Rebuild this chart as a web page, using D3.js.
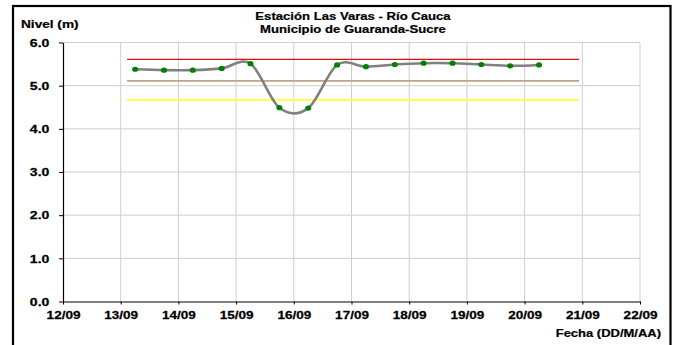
<!DOCTYPE html>
<html><head><meta charset="utf-8">
<script src="https://cdn.jsdelivr.net/npm/d3@7"></script>
<style>
html,body{margin:0;padding:0;background:#fff;}
svg{display:block;font-family:"Liberation Sans",Arial,sans-serif;}
</style></head>
<body><svg id="c" width="677" height="345"></svg>
<script>
const titleLines = ["Estación Las Varas - Río Cauca", "Municipio de Guaranda-Sucre"];
const yLabel = "Nivel (m)";
const xLabel = "Fecha (DD/M/AA)";
const times = ["2011-09-13T06:00","2011-09-13T18:00","2011-09-14T06:00","2011-09-14T18:00",
  "2011-09-15T06:00","2011-09-15T18:00","2011-09-16T06:00","2011-09-16T18:00",
  "2011-09-17T06:00","2011-09-17T18:00","2011-09-18T06:00","2011-09-18T18:00",
  "2011-09-19T06:00","2011-09-19T18:00","2011-09-20T06:00"];
const levels = [5.38,5.36,5.36,5.40,5.51,4.49,4.48,5.48,5.44,5.49,5.52,5.52,5.49,5.46,5.48];
const thresholdValues = [5.61, 5.11, 4.67];
const thresholdColors = ["#e01010", "#c4a484", "#ffff33"];
const thresholdWidths = [1.2, 1.6, 1.8];
const thresholdSpan = ["2011-09-13T02:40", "2011-09-20T22:40"];
const xDomain = ["2011-09-12T00:00", "2011-09-22T00:00"];
const yTicks = [0,1,2,3,4,5,6];

const parse = s => new Date(s + ":00Z");
const svg = d3.select("#c");
const m = {l:63, r:640, t:42.5, b:301.5};
const x = d3.scaleUtc().domain(xDomain.map(parse)).range([m.l, m.r]);
const y = d3.scaleLinear().domain([0,6]).range([m.b, m.t]);

// outer border
svg.append("rect").attr("x",13).attr("y",6).attr("width",657.5).attr("height",345)
  .attr("fill","none").attr("stroke","#000").attr("stroke-width",2.2);

// grid
const days = d3.utcDay.range(parse(xDomain[0]), d3.utcDay.offset(parse(xDomain[1]),1));
svg.append("g").selectAll("line").data(days.slice(1)).join("line")
  .attr("x1",d=>x(d)).attr("x2",d=>x(d)).attr("y1",m.t).attr("y2",m.b)
  .attr("stroke","#cfcfcf").attr("stroke-width",1);
svg.append("g").selectAll("line").data(yTicks.slice(1)).join("line")
  .attr("x1",m.l).attr("x2",m.r).attr("y1",d=>y(d)).attr("y2",d=>y(d))
  .attr("stroke","#cfcfcf").attr("stroke-width",1);

// axes
const xAxis = d3.axisBottom(x).tickValues(days).tickSize(3).tickSizeOuter(0)
  .tickFormat(d3.utcFormat("%d/%m"));
const gx = svg.append("g").attr("transform",`translate(0,${m.b})`).call(xAxis);
gx.select(".domain").attr("stroke","#000").attr("stroke-width",1.2);
gx.selectAll(".tick line").attr("stroke","#000");
gx.selectAll("text").attr("font-size",10.8).attr("font-weight","bold")
  .attr("fill","#000").attr("stroke","#000").attr("stroke-width",0.25)
  .attr("dy",0).attr("y",17.5).attr("transform","scale(1.25,1)")
  .attr("font-family","Liberation Sans, Arial, sans-serif");

const yAxis = d3.axisLeft(y).tickValues(yTicks).tickSize(4).tickSizeOuter(0)
  .tickFormat(d3.format(".1f"));
const gy = svg.append("g").attr("transform",`translate(${m.l},0)`).call(yAxis);
gy.select(".domain").attr("stroke","#000").attr("stroke-width",1.2);
gy.selectAll(".tick line").attr("stroke","#000");
gy.selectAll("text").attr("font-size",10.8).attr("font-weight","bold")
  .attr("fill","#000").attr("stroke","#000").attr("stroke-width",0.25)
  .attr("x",-10.5).attr("dy","0.35em").attr("transform","scale(1.3,1)")
  .attr("font-family","Liberation Sans, Arial, sans-serif");

// threshold lines
svg.append("g").selectAll("line").data(thresholdValues).join("line")
  .attr("x1",x(parse(thresholdSpan[0]))).attr("x2",x(parse(thresholdSpan[1])))
  .attr("y1",d=>y(d)).attr("y2",d=>y(d))
  .attr("stroke",(d,i)=>thresholdColors[i]).attr("stroke-width",(d,i)=>thresholdWidths[i]);

// series
const pts = times.map((t,i)=>({t:parse(t), v:levels[i]}));
svg.append("path").datum(pts)
  .attr("d", d3.line().x(d=>x(d.t)).y(d=>y(d.v)).curve(d3.curveCardinal.tension(0)))
  .attr("fill","none").attr("stroke","#808080").attr("stroke-width",2.6);
svg.append("g").selectAll("ellipse").data(pts).join("ellipse")
  .attr("cx",d=>x(d.t)).attr("cy",d=>y(d.v)).attr("rx",3).attr("ry",2.6)
  .attr("fill","#008000");

// texts
const T = (txt, cx, cy, size, sx, anchor) => svg.append("text")
  .attr("transform",`translate(${cx},${cy}) scale(${sx},1)`)
  .attr("text-anchor",anchor).attr("font-size",size).attr("font-weight","bold")
  .attr("fill","#000").attr("stroke","#000").attr("stroke-width",0.2).text(txt);
T(titleLines[0], 353, 20, 10.5, 1.25, "middle");
T(titleLines[1], 353, 33, 10.5, 1.25, "middle");
T(yLabel, 21, 28, 10.5, 1.3, "start");
T(xLabel, 661, 337, 10, 1.3, "end");
</script></body></html>
